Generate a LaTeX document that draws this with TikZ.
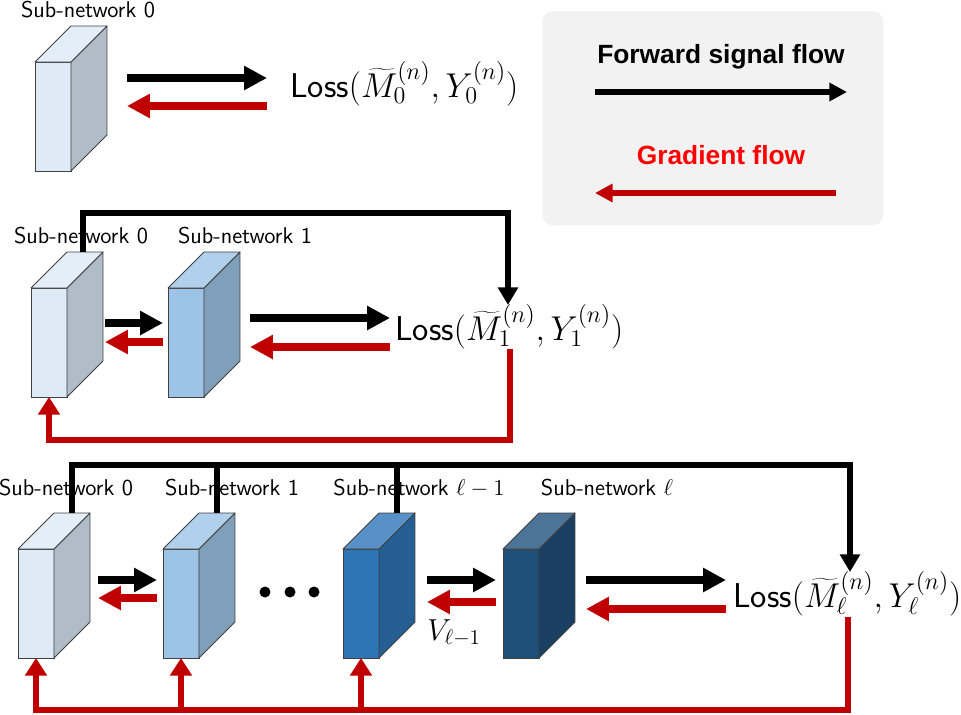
\RequirePackage{fix-cm}
\documentclass[tikz,border=0pt]{standalone}
\usepackage{fontspec}
\newfontfamily\legendfont{Liberation Sans}
\usetikzlibrary{arrows.meta,calc}

\definecolor{gradred}{HTML}{C00000}
\definecolor{legendred}{HTML}{FF0000}
\definecolor{legendbg}{HTML}{F2F2F2}
% block colours (front / side / top)
\definecolor{bzerofront}{HTML}{DEEAF6}
\definecolor{bzeroside}{HTML}{B0BCC8}
\definecolor{bzerotop}{HTML}{E4EEF8}
\definecolor{bonefront}{HTML}{9DC3E6}
\definecolor{boneside}{HTML}{7F9FBA}
\definecolor{bonetop}{HTML}{B1D0EB}
\definecolor{bprevfront}{HTML}{2E75B6}
\definecolor{bprevside}{HTML}{255E93}
\definecolor{bprevtop}{HTML}{5891C8}
\definecolor{blastfront}{HTML}{1F4E79}
\definecolor{blastside}{HTML}{1B3F62}
\definecolor{blasttop}{HTML}{4C7398}

\tikzset{
  face/.style={draw=black!75, line width=0.5pt, anchor=north west,
    minimum width=0.72cm, minimum height=2.18cm, inner sep=0pt, outer sep=0pt},
  edge/.style={draw=black!75, line width=0.5pt, line join=round},
  fwd/.style={line width=4pt, -{Triangle[length=13pt,width=13pt]}},
  bwd/.style={line width=4pt, gradred, -{Triangle[length=13pt,width=13pt]}},
  fwdlink/.style={line width=3.5pt, -{Triangle[length=10pt,width=11pt]}},
  bwdlink/.style={line width=3.5pt, gradred, -{Triangle[length=10pt,width=12pt]}},
  netlabel/.style={font=\sffamily\fontsize{13}{15}\selectfont, inner sep=0pt, anchor=base},
  lossnode/.style={font=\fontsize{19.6}{23}\selectfont, inner sep=0pt, anchor=base west},
  legendtext/.style={font=\legendfont\bfseries\fontsize{15}{18}\selectfont, inner sep=0pt, anchor=base},
}

% one 3-D sub-network block: name, x, y (front top-left), colour prefix
\newcommand{\netblock}[4]{%
  \node[face, fill=#4front] (#1) at (#2,#3) {};
  \filldraw[edge, fill=#4side] (#1.north east) -- ++(36,-36) -- ++(0,109) -- (#1.south east) -- cycle;
  \filldraw[edge, fill=#4top] (#1.north west) -- ++(36,-36) -- ++(36,0) -- (#1.north east) -- cycle;
}

\begin{document}
\begin{tikzpicture}[x=0.02cm, y=-0.02cm]
  \useasboundingbox (0,0) rectangle (961,714);

  % Legend
  \node[fill=legendbg, rounded corners=6pt, anchor=north west, minimum width=6.82cm,
    minimum height=4.28cm, inner sep=0pt] (legend) at (542,11) {};
  \node[legendtext] (fwdtext) at (721,63) {Forward signal flow};
  \node[legendtext, text=legendred] (gradtext) at (721,164) {Gradient flow};
  \coordinate (lf1) at (595,92);
  \coordinate (lf2) at (847,92);
  \coordinate (lb1) at (836,193);
  \coordinate (lb2) at (595,193);
  \draw[line width=3.5pt, -{Triangle[length=10pt,width=10pt]}] (lf1) -- (lf2);
  \draw[line width=3.5pt, gradred, -{Triangle[length=10pt,width=10pt]}] (lb1) -- (lb2);

  % Row 1: one sub-network
  \netblock{r1b0}{35}{62}{bzero}
  \node[netlabel] (r1l0) at (88,17) {Sub-network 0};
  \node[lossnode] (r1loss) at (290,97) {\textsf{Loss}$(\widetilde{M}_0^{(n)},Y_0^{(n)})$};
  \coordinate (r1a) at (127,78);
  \coordinate (r1b) at (267,78);
  \coordinate (r1c) at (267,106);
  \coordinate (r1d) at (127,106);
  \draw[fwd] (r1a) -- (r1b);
  \draw[bwd] (r1c) -- (r1d);

  % Row 2: two sub-networks
  \netblock{r2b0}{31}{288}{bzero}
  \netblock{r2b1}{168}{288}{bone}
  \node[netlabel] (r2l0) at (81,243) {Sub-network 0};
  \node[netlabel] (r2l1) at (245,243) {Sub-network 1};
  \node[lossnode] (r2loss) at (395,340) {\textsf{Loss}$(\widetilde{M}_1^{(n)},Y_1^{(n)})$};
  \coordinate (r2a) at (105,323);
  \coordinate (r2b) at (163,323);
  \coordinate (r2c) at (163,342);
  \coordinate (r2d) at (105,342);
  \coordinate (r2e) at (250,318);
  \coordinate (r2f) at (390,318);
  \coordinate (r2g) at (390,347);
  \coordinate (r2h) at (250,347);
  \draw[fwd] (r2a) -- (r2b);
  \draw[bwd] (r2c) -- (r2d);
  \draw[fwd] (r2e) -- (r2f);
  \draw[bwd] (r2g) -- (r2h);
  % skip connections
  \coordinate (r2t0) at ([shift={(34,-36)}]r2b0.north);
  \coordinate (r2bus) at (508,213);
  \coordinate (r2tip) at (508,305);
  \coordinate (r2up) at (510,349);
  \coordinate (r2floor) at (510,440);
  \draw[fwdlink] (r2t0) |- (r2bus) -- (r2tip);
  \draw[bwdlink] (r2up) -- (r2floor) -| (r2b0.south);

  % Row 3: sub-networks 0 ... l
  \netblock{r3b0}{18}{549}{bzero}
  \netblock{r3b1}{163}{549}{bone}
  \netblock{r3b2}{343}{549}{bprev}
  \netblock{r3b3}{503}{549}{blast}
  \node[netlabel] (r3l0) at (66,495) {Sub-network 0};
  \node[netlabel] (r3l1) at (232,495) {Sub-network 1};
  \node[netlabel] (r3l2) at (419,495) {Sub-network $\ell-1$};
  \node[netlabel] (r3l3) at (607,495) {Sub-network $\ell$};
  \node[lossnode] (r3loss) at (733,607) {\textsf{Loss}$(\widetilde{M}_\ell^{(n)},Y_\ell^{(n)})$};
  \node[font=\LARGE, inner sep=0pt, anchor=base west] (vlabel) at (427,640) {$V_{\ell-1}$};
  \foreach \x in {265,290,314}
    \fill (\x,592) circle (5.5);
  \coordinate (r3a) at (98,580);
  \coordinate (r3b) at (157,580);
  \coordinate (r3c) at (157,598);
  \coordinate (r3d) at (98,598);
  \coordinate (r3e) at (427,580);
  \coordinate (r3f) at (496,580);
  \coordinate (r3g) at (496,602);
  \coordinate (r3h) at (427,602);
  \coordinate (r3i) at (586,580);
  \coordinate (r3j) at (726,580);
  \coordinate (r3k) at (726,609);
  \coordinate (r3m) at (586,609);
  \draw[fwd] (r3a) -- (r3b);
  \draw[bwd] (r3c) -- (r3d);
  \draw[fwd] (r3e) -- (r3f);
  \draw[bwd] (r3g) -- (r3h);
  \draw[fwd] (r3i) -- (r3j);
  \draw[bwd] (r3k) -- (r3m);
  % skip connections
  \foreach \b in {0,1,2}
    \coordinate (r3t\b) at ([shift={(36,-36)}]r3b\b.north);
  \coordinate (r3bus) at (850,465);
  \coordinate (r3tip) at (850,572);
  \coordinate (r3up) at (848,617);
  \coordinate (r3floor) at (848,710);
  \draw[fwdlink] (r3t0) |- (r3bus) -- (r3tip);
  \foreach \b in {1,2}
    \draw[line width=3.5pt] (r3t\b) -- (r3t\b |- r3bus);
  \draw[bwdlink] (r3up) -- (r3floor) -| (r3b0.south);
  \foreach \b in {1,2}
    \draw[bwdlink] (r3b\b.south |- r3floor) -- (r3b\b.south);
\end{tikzpicture}
\end{document}
